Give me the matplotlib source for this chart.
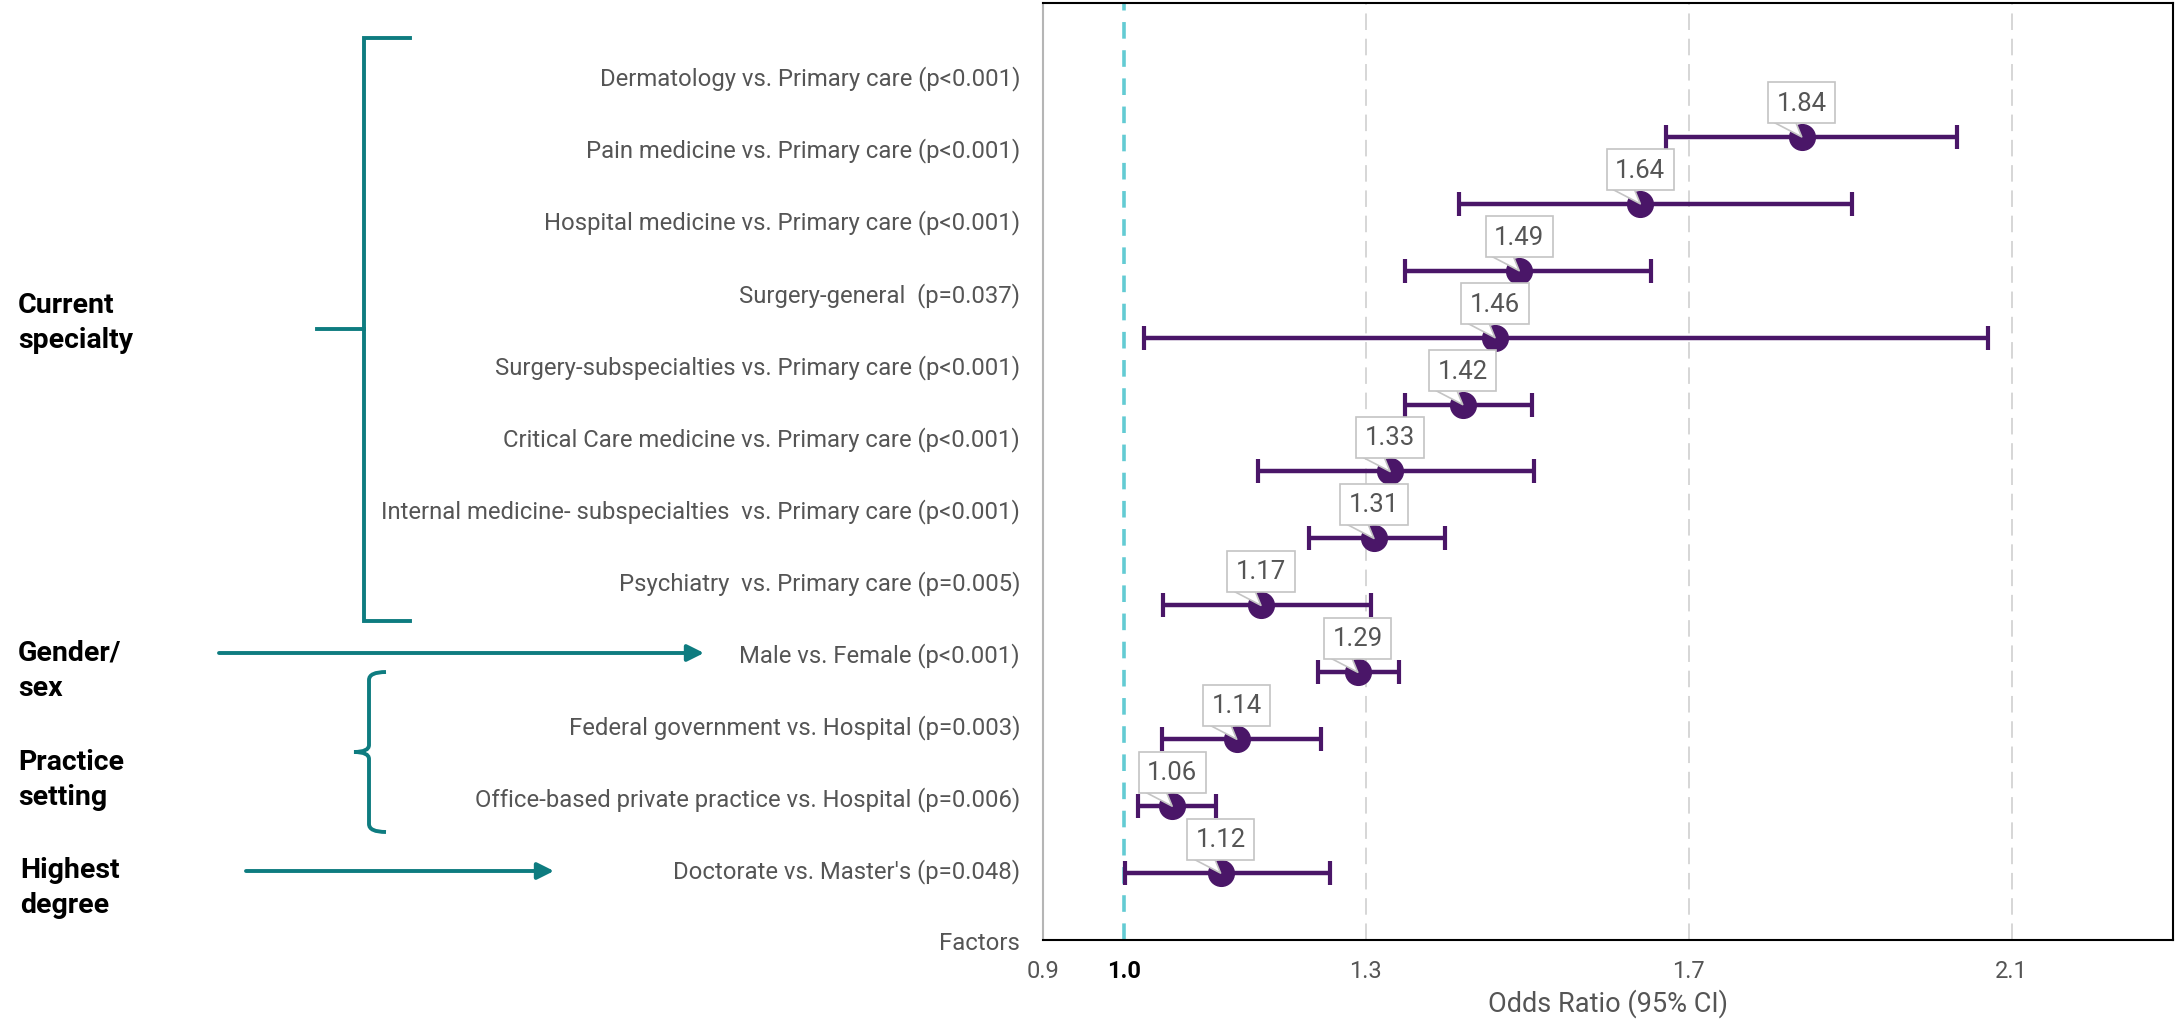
import matplotlib
matplotlib.use("Agg")
import numpy as np
import matplotlib.pyplot as plt
from matplotlib.path import Path
from matplotlib.patches import PathPatch

plt.rcParams['font.family'] = ['Roboto', 'DejaVu Sans']

# row labels, bottom to top (Factors sits on the x axis)
factor_labels = [
    "Factors",
    "Doctorate vs. Master's (p=0.048)",
    "Office-based private practice vs. Hospital (p=0.006)",
    "Federal government vs. Hospital (p=0.003)",
    "Male vs. Female (p<0.001)",
    "Psychiatry  vs. Primary care (p=0.005)",
    "Internal medicine- subspecialties  vs. Primary care (p<0.001)",
    "Critical Care medicine vs. Primary care (p<0.001)",
    "Surgery-subspecialties vs. Primary care (p<0.001)",
    "Surgery-general  (p=0.037)",
    "Hospital medicine vs. Primary care (p<0.001)",
    "Pain medicine vs. Primary care (p<0.001)",
    "Dermatology vs. Primary care (p<0.001)",
]

# odds ratios with 95% CI, top to bottom
odds = [1.84, 1.64, 1.49, 1.46, 1.42, 1.33, 1.31, 1.17, 1.29, 1.14, 1.06, 1.12]
ci_low = [1.672, 1.416, 1.348, 1.025, 1.349, 1.166, 1.229, 1.049, 1.241, 1.047, 1.018, 1.001]
ci_high = [2.033, 1.902, 1.653, 2.071, 1.506, 1.508, 1.398, 1.306, 1.341, 1.244, 1.114, 1.256]

xticks = [0.9, 1.0, 1.3, 1.7, 2.1]
gridlines = [1.3, 1.7, 2.1]

purple = "#4a1668"
teal = "#0e7c80"
cyan = "#63cbd3"
gray_txt = "#555555"

fig = plt.figure(figsize=(21.84, 10.2), dpi=100)
ax = fig.add_axes([0.47756, 0.07745, 0.51740, 0.91863])

ax.set_xlim(0.9, 2.3)
ax.set_ylim(0, 13.0)
ax.set_yticks(np.arange(len(factor_labels)))
ax.set_yticklabels(factor_labels, fontsize=17.2, color=gray_txt)
ax.set_xticks(xticks)
ax.set_xticklabels([f"{t:.1f}" for t in xticks], fontsize=17, color=gray_txt)
for lab in ax.get_xticklabels():
    if lab.get_text() == "1.0":
        lab.set_fontweight("bold")
        lab.set_color("black")
ax.tick_params(axis='both', length=0)
ax.tick_params(axis='y', pad=16.5)
ax.tick_params(axis='x', pad=14)
ax.set_xlabel("Odds Ratio (95% CI)", fontsize=19.5, color=gray_txt, labelpad=4)

for side in ['top', 'right', 'bottom']:
    ax.spines[side].set_color('black')
    ax.spines[side].set_linewidth(1.5)
ax.spines['left'].set_color('#b5b5b5')
ax.spines['left'].set_linewidth(1.5)

for g in gridlines:
    ax.axvline(g, color='#d6d6d6', lw=1.4, ls=(0, (8.5, 4.5)), zorder=0)
ax.axvline(1.0, color=cyan, lw=2.6, ls=(0, (4.6, 3.2)), zorder=1)

# points on their own vertical scale
ax2 = ax.twinx()
ax2.set_ylim(0, 14.0)
ax2.set_yticks([])
for s in ax2.spines.values():
    s.set_visible(False)

rows = np.arange(len(odds), 0, -1)
lo_err = np.array(odds) - np.array(ci_low)
hi_err = np.array(ci_high) - np.array(odds)
ax2.errorbar(odds, rows, xerr=[lo_err, hi_err], fmt='o', color=purple,
             ms=18.5, mfc=purple, mec=purple, elinewidth=3.2,
             capsize=8.6, capthick=3.0, zorder=3)

for v, y in zip(odds, rows):
    ax2.annotate(f"{v:.2f}", xy=(v, y), xytext=(0, 24.5), textcoords='offset points',
                 ha='center', va='center', fontsize=18.5, color=gray_txt, zorder=5,
                 bbox=dict(boxstyle='square,pad=0.33', fc='white', ec='#c4c4c4', lw=1.2),
                 arrowprops=dict(arrowstyle='wedge,tail_width=0.85,shrink_factor=0.5',
                                 fc='white', ec='#c4c4c4', lw=1.2, relpos=(0.1, 0),
                                 patchA=None, shrinkA=0, shrinkB=0))

# left side group annotations, in pixel coordinates
ov = fig.add_axes([0, 0, 1, 1], zorder=-1)
ov.set_xlim(0, 2184)
ov.set_ylim(1020, 0)
ov.axis('off')

bold = dict(fontsize=20.5, fontweight='bold', color='black', ha='left', va='top', linespacing=1.4)
ov.text(18, 292, "Current\nspecialty", **bold)
ov.text(18, 640, "Gender/\nsex", **bold)
ov.text(18, 749, "Practice\nsetting", **bold)
ov.text(20, 857, "Highest\ndegree", **bold)

# square bracket for current specialty
ov.plot([410, 364, 364, 410], [39, 39, 622, 622], color=teal, lw=2.8, solid_joinstyle='miter')
ov.plot([317, 364], [330, 330], color=teal, lw=2.8)

# curly brace for practice setting
verts = [(386, 673), (369, 673), (369, 681),
         (369, 746),
         (369, 753), (354, 753),
         (369, 753), (369, 760),
         (369, 825),
         (369, 833), (386, 833)]
codes = [Path.MOVETO, Path.CURVE3, Path.CURVE3,
         Path.LINETO,
         Path.CURVE3, Path.CURVE3,
         Path.CURVE3, Path.CURVE3,
         Path.LINETO,
         Path.CURVE3, Path.CURVE3]
ov.add_patch(PathPatch(Path(verts, codes), fc='none', ec=teal, lw=2.8))

arrow = dict(arrowstyle='-|>,head_length=1.0,head_width=0.5', color=teal, lw=2.8,
             shrinkA=0, shrinkB=0, mutation_scale=10)
ov.annotate('', xy=(704, 654), xytext=(219, 654), arrowprops=arrow)
ov.annotate('', xy=(554, 872), xytext=(246, 872), arrowprops=arrow)

fig.savefig("out.png", dpi=100)
